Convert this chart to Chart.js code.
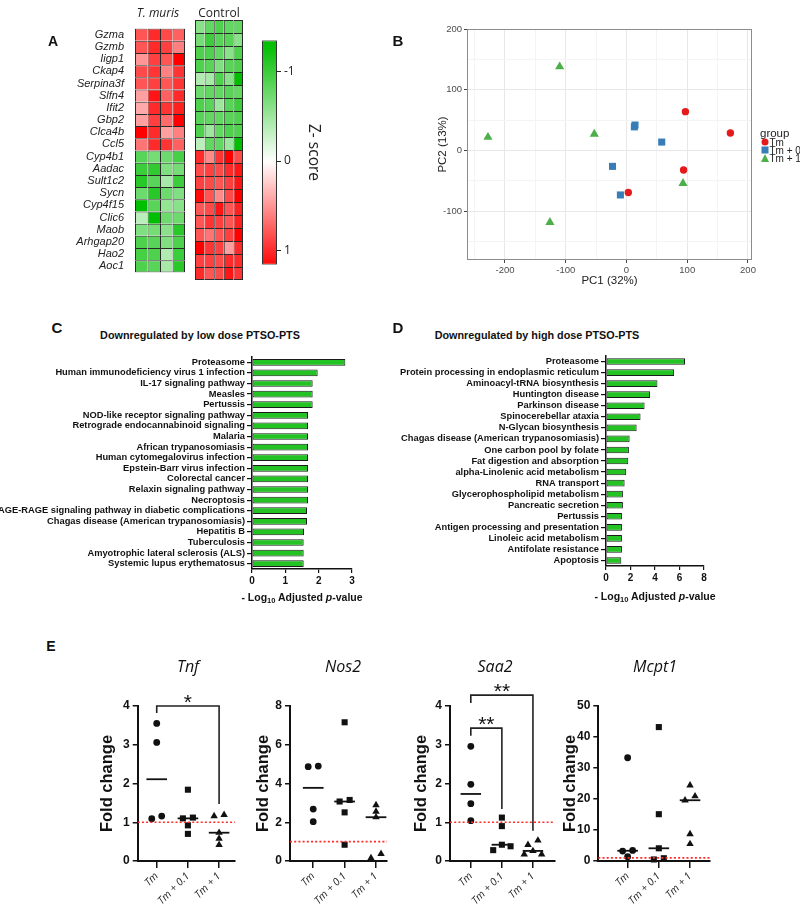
<!DOCTYPE html>
<html>
<head>
<meta charset="utf-8">
<script src="https://cdn.jsdelivr.net/npm/chart.js@4.4.1/dist/chart.umd.min.js"></script>
<style>
  html, body { margin: 0; padding: 0; background: #fff; }
  body { position: relative; width: 800px; height: 911px; overflow: hidden; font-family: "Liberation Sans", Arial, sans-serif; color: #111; }
  canvas { position: absolute; }
  .t { position: absolute; white-space: nowrap; line-height: 1; }
  .t sub { font-size: 0.72em; vertical-align: -0.25em; line-height: 0; }
</style>
</head>
<body>
<script>
// ---- data: heatmap (A) ----
const genes = ["Gzma", "Gzmb", "Iigp1", "Ckap4", "Serpina3f", "Slfn4", "Ifit2", "Gbp2", "Clca4b", "Ccl5",
  "Cyp4b1", "Aadac", "Sult1c2", "Sycn", "Cyp4f15", "Clic6", "Maob", "Arhgap20", "Hao2", "Aoc1"];
const tmZ = [
  [0.8, 1.0, 0.85, 0.75], [0.8, 1.0, 0.9, 0.6], [0.5, 0.9, 0.8, 1.2], [0.85, 0.95, 0.6, 0.95],
  [0.8, 0.9, 0.8, 0.95], [0.45, 1.1, 0.75, 1.0], [0.4, 1.0, 0.95, 1.05], [0.45, 0.9, 0.7, 1.3],
  [1.25, 1.0, 0.45, 0.6], [0.65, 1.0, 0.95, 0.75],
  [-0.85, -0.7, -0.75, -0.95], [-1.0, -1.05, -0.65, -0.7], [-1.1, -0.85, -0.45, -1.0], [-0.75, -1.1, -0.75, -0.65],
  [-1.35, -0.85, -0.55, -0.6], [-0.35, -1.35, -0.75, -0.75], [-0.65, -0.7, -0.6, -1.1], [-0.9, -0.85, -0.65, -0.9],
  [-0.95, -0.9, -0.4, -1.0], [-0.9, -0.85, -0.45, -1.1],
];
const ctrlZ = [
  [-0.6, -0.8, -0.9, -0.8, -0.8], [-0.7, -1.0, -0.85, -0.85, -0.6], [-0.9, -0.9, -0.8, -0.6, -0.9], [-0.9, -0.85, -0.65, -0.85, -0.9],
  [-0.4, -0.45, -0.9, -0.6, -1.3], [-0.75, -0.8, -0.8, -0.85, -0.8], [-0.9, -0.85, -0.5, -0.85, -1.0], [-0.85, -0.8, -0.8, -0.85, -0.9],
  [-0.9, -0.5, -0.8, -0.9, -0.9], [-0.35, -0.8, -0.8, -0.5, -1.3],
  [1.0, 0.55, 0.95, 1.2, 0.85], [0.85, 0.9, 0.85, 1.0, 1.1], [0.9, 0.85, 0.8, 0.9, 1.1], [1.15, 0.8, 0.55, 0.85, 1.2],
  [0.8, 0.85, 1.1, 0.8, 1.05], [0.8, 0.95, 0.9, 0.8, 1.05], [0.8, 0.65, 0.8, 0.9, 1.3], [1.25, 0.95, 0.9, 0.45, 1.0],
  [0.9, 0.9, 0.85, 1.0, 1.0], [1.0, 0.8, 0.85, 1.1, 0.95],
];
const zRange = [-1.35, 1.16];
const zTicks = [-1, 0, 1];

// ---- data: PCA (B) ----
const pcaTm = [[97, 64], [171, 29], [94, -32], [3, -69]];
const pcaTm01 = [[13, 39], [14, 42], [58, 14], [-23, -26], [-10, -73]];
const pcaTm1 = [[-110, 138], [-228, 22], [-53, 27], [-126, -118], [93, -54]];

// ---- data: pathways (C, D) ----
const lowTerms = ["Proteasome", "Human immunodeficiency virus 1 infection", "IL-17 signaling pathway", "Measles", "Pertussis",
  "NOD-like receptor signaling pathway", "Retrograde endocannabinoid signaling", "Malaria", "African trypanosomiasis",
  "Human cytomegalovirus infection", "Epstein-Barr virus infection", "Colorectal cancer", "Relaxin signaling pathway",
  "Necroptosis", "AGE-RAGE signaling pathway in diabetic complications", "Chagas disease (American trypanosomiasis)",
  "Hepatitis B", "Tuberculosis", "Amyotrophic lateral sclerosis (ALS)", "Systemic lupus erythematosus"];
const lowVals = [2.8, 1.97, 1.82, 1.82, 1.82, 1.68, 1.68, 1.68, 1.68, 1.68, 1.68, 1.68, 1.68, 1.68, 1.65, 1.65, 1.56, 1.55, 1.55, 1.55];
const highTerms = ["Proteasome", "Protein processing in endoplasmic reticulum", "Aminoacyl-tRNA biosynthesis", "Huntington disease",
  "Parkinson disease", "Spinocerebellar ataxia", "N-Glycan biosynthesis", "Chagas disease (American trypanosomiasis)",
  "One carbon pool by folate", "Fat digestion and absorption", "alpha-Linolenic acid metabolism", "RNA transport",
  "Glycerophospholipid metabolism", "Pancreatic secretion", "Pertussis", "Antigen processing and presentation",
  "Linoleic acid metabolism", "Antifolate resistance", "Apoptosis"];
const highVals = [6.45, 5.56, 4.2, 3.6, 3.15, 2.82, 2.5, 1.93, 1.87, 1.82, 1.65, 1.52, 1.38, 1.38, 1.3, 1.3, 1.3, 1.3, 1.25];

// ---- data: qPCR fold change (E) ----
const groups = ["Tm", "Tm + 0.1", "Tm + 1"];
const tnf = [[3.55, 3.06, 1.16, 1.09], [1.84, 1.12, 1.1, 0.92, 0.7], [1.19, 1.16, 0.73, 0.58, 0.42]];
const nos2 = [[4.9, 4.87, 2.68, 2.03], [7.16, 3.15, 3.07, 2.51, 0.84], [2.89, 2.55, 2.26, 0.37, 0.15]];
const saa2 = [[2.96, 1.98, 1.48, 1.04], [1.12, 0.9, 0.42, 0.38, 0.28], [0.53, 0.42, 0.26, 0.17, 0.17]];
const mcpt1 = [[33.3, 3.4, 3.2, 1.4], [43.2, 15.1, 4.1, 0.9, 0.5], [24.4, 20.9, 19.6, 8.7, 5.5]];
const tnfSig = [{ from: 0, to: 2, top: 4.0, left: 3.82, right: 1.47, label: "*" }];
const saa2Sig = [
  { from: 0, to: 2, top: 4.28, left: 4.08, right: 0.78, label: "**" },
  { from: 0, to: 1, top: 3.43, left: 3.23, right: 1.34, label: "**" },
];

Chart.defaults.font.family = '"Liberation Sans", Arial, sans-serif';
Chart.defaults.color = "#111";
Chart.defaults.animation = false;
Chart.defaults.responsive = false;
Chart.defaults.maintainAspectRatio = false;
Chart.defaults.devicePixelRatio = 1;
Chart.defaults.plugins.legend.display = false;
Chart.defaults.plugins.tooltip.enabled = false;

function canvasAt(x, y, w, h) {
  const c = document.createElement("canvas");
  c.width = w;
  c.height = h;
  c.style.left = x + "px";
  c.style.top = y + "px";
  c.style.width = w + "px";
  c.style.height = h + "px";
  document.body.appendChild(c);
  return c.getContext("2d");
}

function txt(html, x, y, css, anchor) {
  const d = document.createElement("div");
  d.className = "t";
  d.innerHTML = html;
  d.style.cssText = css;
  d.style.left = x + "px";
  d.style.top = y + "px";
  d.style.transform = anchor === "left" ? "translate(0,-50%)" : "translate(-50%,-50%)";
  document.body.appendChild(d);
  return d;
}

// z-score colour: white at 0, red for positive, green for negative
function zColor(z) {
  if (z >= 0) {
    const t = Math.min(z / 1.2, 1);
    const c = Math.round(255 * (1 - t));
    return `rgb(255,${c},${c})`;
  }
  const t = Math.min(-z / 1.3, 1);
  const rb = Math.round(255 * (1 - t));
  return `rgb(${rb},${Math.round(255 - 65 * t)},${rb})`;
}

// ---------- A: heatmap ----------
function heatmap(x, y, w, h, rows, pad, labelW) {
  const nCol = rows[0].length;
  const datasets = [];
  for (let c = 0; c < nCol; c++) {
    datasets.push({
      data: rows.map(() => 1),
      backgroundColor: rows.map((r) => zColor(r[c])),
      borderColor: "#2a2a2a",
      borderSkipped: false,
      inflateAmount: 0,
      borderWidth: (ctx) => ({ top: 1, left: 1, right: c === nCol - 1 ? 1 : 0, bottom: ctx.dataIndex === rows.length - 1 ? 1 : 0 }),
      barPercentage: 1,
      categoryPercentage: 1,
    });
  }
  new Chart(canvasAt(x, y, w, h), {
    type: "bar",
    data: { labels: genes, datasets },
    options: {
      indexAxis: "y",
      layout: { padding: pad },
      scales: {
        x: { display: false, stacked: true, min: 0, max: nCol },
        y: {
          display: labelW > 0,
          stacked: true,
          afterFit: (s) => { s.width = labelW; },
          grid: { display: false },
          border: { display: false },
          ticks: { autoSkip: false, padding: 3, color: "#222", font: { style: "italic", size: 11 } },
        },
      },
    },
  });
}
heatmap(0, 19, 187, 263, tmZ, { top: 1, bottom: 2, right: 2 }, 135);
heatmap(194, 19, 51, 263, ctrlZ, { top: 1, bottom: 2, left: 1, right: 2 }, 0);

function zGradient(chart) {
  const a = chart.chartArea;
  if (!a) return "#fff";
  const ys = chart.scales.y;
  const g = chart.ctx.createLinearGradient(0, a.top, 0, a.bottom);
  for (let i = 0; i <= 24; i++) {
    const z = zRange[0] + ((zRange[1] - zRange[0]) * i) / 24;
    const p = (ys.getPixelForValue(z) - a.top) / (a.bottom - a.top);
    g.addColorStop(Math.min(Math.max(p, 0), 1), zColor(z));
  }
  return g;
}
new Chart(canvasAt(260, 30, 72, 245), {
  type: "bar",
  data: {
    labels: [""],
    datasets: [{
      data: [zRange],
      backgroundColor: (ctx) => zGradient(ctx.chart),
      borderColor: "#333",
      borderWidth: 1,
      borderSkipped: false,
      inflateAmount: 0,
      barPercentage: 1,
      categoryPercentage: 1,
    }],
  },
  options: {
    layout: { padding: { left: 2, top: 5, bottom: 6 } },
    scales: {
      x: { display: false },
      y: {
        position: "right",
        reverse: true,
        min: zRange[0],
        max: zRange[1],
        afterBuildTicks: (s) => { s.ticks = zTicks.map((v) => ({ value: v })); },
        afterFit: (s) => { s.width = 55; },
        ticks: { color: "#222", padding: 3, font: { family: '"Open Sans"', size: 12 } },
        grid: { drawOnChartArea: false, tickLength: 4, color: "#222" },
        border: { display: false },
        title: { display: true, text: "Z- score", color: "#222", font: { family: '"Open Sans"', size: 15.5 }, padding: { top: 9.7, bottom: 0 } },
      },
    },
  },
});
txt("A", 53, 41, 'font:bold 14px "Liberation Sans",Arial;');
txt("T. muris", 158, 12, 'font:italic 12px "Open Sans";color:#222;');
txt("Control", 219, 12, 'font:12px "Open Sans";color:#222;');

// ---------- B: PCA ----------
const framePlugin = {
  id: "frame",
  afterDraw(chart, args, opts) {
    const { ctx, chartArea: a } = chart;
    ctx.save();
    ctx.strokeStyle = opts.color || "#888";
    ctx.lineWidth = 1;
    ctx.strokeRect(a.left + 0.5, a.top + 0.5, a.width - 1, a.height - 1);
    ctx.restore();
  },
};
const pcaTick = { color: "#4d4d4d", padding: 2, font: { size: 9.5 }, autoSkip: false, maxRotation: 0, callback: (v) => (v % 100 === 0 ? v : "") };
const pcaGrid = {
  color: (c) => (c.tick && c.tick.value % 100 === 0 ? "#e8e8e8" : "#f4f4f4"),
  tickColor: (c) => (c.tick && c.tick.value % 100 === 0 ? "#444" : "rgba(0,0,0,0)"),
  tickLength: 3,
};
new Chart(canvasAt(380, 20, 420, 290), {
  type: "scatter",
  data: {
    datasets: [
      { data: pcaTm.map((p) => ({ x: p[0], y: p[1] })), pointStyle: "circle", pointRadius: 3.7, pointBackgroundColor: "#e41a1c", pointBorderWidth: 0 },
      { data: pcaTm01.map((p) => ({ x: p[0], y: p[1] })), pointStyle: "rect", pointRadius: 5, pointBackgroundColor: "#377eb8", pointBorderWidth: 0 },
      { data: pcaTm1.map((p) => ({ x: p[0], y: p[1] })), pointStyle: "triangle", pointRadius: 5.3, pointBackgroundColor: "#4daf4a", pointBorderWidth: 0 },
    ],
  },
  options: {
    layout: { padding: { top: 9, right: 48 } },
    scales: {
      x: {
        min: -262.5, max: 206.6,
        afterBuildTicks: (s) => { const t = []; for (let v = -250; v <= 200; v += 50) t.push({ value: v }); s.ticks = t; },
        afterFit: (s) => { s.height = 50; },
        ticks: pcaTick, grid: pcaGrid, border: { display: false },
        title: { display: true, text: "PC1 (32%)", color: "#222", font: { size: 11.5 }, padding: { top: 0, bottom: 22 } },
      },
      y: {
        min: -180, max: 200,
        afterBuildTicks: (s) => { const t = []; for (let v = -150; v <= 200; v += 50) t.push({ value: v }); s.ticks = t; },
        afterFit: (s) => { s.width = 87; },
        ticks: pcaTick, grid: pcaGrid, border: { display: false },
        title: { display: true, text: "PC2 (13%)", color: "#222", font: { size: 11.5 }, padding: { top: 56, bottom: 0 } },
      },
    },
    plugins: { frame: { color: "#8c8c8c" } },
  },
  plugins: [framePlugin],
});
txt("B", 398, 40, 'font:bold 15px "Liberation Sans",Arial;');
txt("group", 760, 133, 'font:11.5px "Liberation Sans",Arial;color:#222;', "left");
const legendRows = [
  ["Tm", "width:7px;height:7px;border-radius:50%;background:#e41a1c;"],
  ["Tm + 0.1", "width:7px;height:7px;background:#377eb8;"],
  ["Tm + 1", "width:0;height:0;border-left:4.5px solid transparent;border-right:4.5px solid transparent;border-bottom:8px solid #4daf4a;"],
];
legendRows.forEach((r, i) => {
  const yy = 141.5 + i * 8.2;
  txt("", 764.5, yy, "position:absolute;" + r[1]);
  txt(r[0], 769.5, yy, 'font:10px "Liberation Sans",Arial;color:#222;', "left");
});

// ---------- C, D: pathway bars ----------
function pathwayBars(x, y, w, h, yW, padTop, xH, labels, vals, xMax, step, barPct) {
  new Chart(canvasAt(x, y, w, h), {
    type: "bar",
    data: {
      labels,
      datasets: [{
        data: vals, backgroundColor: "#22c322", borderColor: "#1b1b1b", borderWidth: 1,
        borderSkipped: false, barPercentage: barPct, categoryPercentage: 1,
      }],
    },
    options: {
      indexAxis: "y",
      layout: { padding: { top: padTop, right: 8 } },
      scales: {
        x: {
          min: 0, max: xMax,
          afterFit: (s) => { s.height = xH; },
          ticks: { stepSize: step, color: "#111", padding: 2, font: { weight: "bold", size: 10 } },
          grid: { drawOnChartArea: false, tickLength: 4, color: "#111", lineWidth: 1.2 },
          border: { color: "#111", width: 1.5 },
        },
        y: {
          afterFit: (s) => { s.width = yW; },
          ticks: { autoSkip: false, color: "#111", padding: 2, font: { weight: "bold", size: 9.3 } },
          grid: { drawOnChartArea: false, offset: false, tickLength: 5, color: "#111", lineWidth: 1.2 },
          border: { color: "#111", width: 1.5 },
        },
      },
    },
  });
}
pathwayBars(0, 345, 360, 255, 252, 12, 31, lowTerms, lowVals, 3, 1, 0.63);
pathwayBars(400, 345, 312, 252, 206, 11, 31, highTerms, highVals, 8, 2, 0.6);
txt("C", 57, 327, 'font:bold 15px "Liberation Sans",Arial;');
txt("D", 398, 327, 'font:bold 15px "Liberation Sans",Arial;');
txt("Downregulated by low dose PTSO-PTS", 200, 335, 'font:bold 10.8px "Liberation Sans",Arial;');
txt("Downregulated by high dose PTSO-PTS", 537, 335, 'font:bold 10.8px "Liberation Sans",Arial;');
txt("- Log<sub>10</sub> Adjusted <i>p</i>-value", 302, 597, 'font:bold 10.5px "Liberation Sans",Arial;');
txt("- Log<sub>10</sub> Adjusted <i>p</i>-value", 655, 596, 'font:bold 10.5px "Liberation Sans",Arial;');

// ---------- E: dot plots ----------
const starPlugin = {
  id: "stars",
  afterDatasetsDraw(chart, args, opts) {
    const { ctx } = chart;
    const xs = chart.scales.x, ys = chart.scales.y;
    ctx.save();
    ctx.fillStyle = "#111";
    ctx.font = '21px "Liberation Sans", Arial';
    ctx.textAlign = "center";
    ctx.textBaseline = "alphabetic";
    (opts.items || []).forEach((b) => {
      const mx = (xs.getPixelForValue(b.from) + xs.getPixelForValue(b.to)) / 2;
      ctx.fillText(b.label, mx, ys.getPixelForValue(b.top) + 3);
    });
    ctx.restore();
  },
};

function median(v) {
  const s = v.slice().sort((a, b) => a - b);
  const m = Math.floor(s.length / 2);
  return s.length % 2 ? s[m] : (s[m - 1] + s[m]) / 2;
}

function dotPlot(cfg) {
  const { left, width, yW, yMax, step, xMin, xMax, titlePad, data, sig } = cfg;
  const thr = yMax * 0.03;
  // spread points with nearly equal values side by side
  const pts = data.map((vals, g) => {
    const s = vals.slice().sort((a, b) => a - b);
    const out = [];
    let i = 0;
    while (i < s.length) {
      let j = i + 1;
      while (j < s.length && s[j] - s[j - 1] < thr) j++;
      const n = j - i;
      const offs = n === 1 ? [0] : n === 2 ? [-0.16, 0.16] : [-0.28, 0.28, 0];
      for (let k = i; k < j; k++) out.push({ x: g + offs[k - i], y: s[k] });
      i = j;
    }
    return out;
  });
  const datasets = [];
  datasets.push({ data: [{ x: xMin, y: 1 }, { x: xMax, y: 1 }], showLine: true, borderColor: "#ff2a2a", borderWidth: 1.6, borderDash: [2, 2.2], pointRadius: 0 });
  data.forEach((vals, g) => {
    const m = median(vals);
    datasets.push({ data: [{ x: g - 0.33, y: m }, { x: g + 0.33, y: m }], showLine: true, borderColor: "#111", borderWidth: 1.8, pointRadius: 0 });
  });
  sig.forEach((b) => {
    datasets.push({
      data: [{ x: b.from, y: b.left }, { x: b.from, y: b.top }, { x: b.to, y: b.top }, { x: b.to, y: b.right }],
      showLine: true, borderColor: "#222", borderWidth: 1.6, pointRadius: 0,
    });
  });
  const styles = ["circle", "rect", "triangle"];
  const radii = [3.4, 4.3, 4.3];
  pts.forEach((p, g) => {
    datasets.push({ data: p, pointStyle: styles[g], pointRadius: radii[g], pointBackgroundColor: "#111", pointBorderWidth: 0 });
  });
  datasets.forEach((d) => { d.clip = false; });

  new Chart(canvasAt(left, 675, width, 236), {
    type: "scatter",
    data: { datasets },
    options: {
      layout: { padding: { top: 31, right: 5 } },
      scales: {
        x: {
          min: xMin, max: xMax,
          afterBuildTicks: (s) => { s.ticks = groups.map((g, i) => ({ value: i })); },
          afterFit: (s) => { s.height = 50; },
          ticks: { autoSkip: false, minRotation: 45, maxRotation: 45, padding: 2, color: "#222", callback: (v) => groups[v], font: { family: '"Open Sans"', style: "italic", size: 10.5 } },
          grid: { drawOnChartArea: false, tickLength: 7, color: "#111", lineWidth: 1.5 },
          border: { color: "#111", width: 2 },
        },
        y: {
          min: 0, max: yMax,
          afterFit: (s) => { s.width = yW; },
          ticks: { stepSize: step, color: "#111", padding: 3, font: { weight: "bold", size: 12 } },
          grid: { drawOnChartArea: false, tickLength: 5, color: "#111", lineWidth: 1.5 },
          border: { color: "#111", width: 2 },
          title: { display: true, text: "Fold change", color: "#111", font: { weight: "bold", size: 16.5 }, padding: { top: titlePad, bottom: 0 } },
        },
      },
      plugins: { stars: { items: sig } },
    },
    plugins: [starPlugin],
  });
}
dotPlot({ left: 95, width: 145, yW: 42.7, yMax: 4, step: 1, xMin: -0.61, xMax: 2.51, titlePad: 2.1, data: tnf, sig: tnfSig });
dotPlot({ left: 250, width: 142, yW: 40, yMax: 8, step: 2, xMin: -0.74, xMax: 2.35, titlePad: 3.1, data: nos2, sig: [] });
dotPlot({ left: 410, width: 150, yW: 40, yMax: 4, step: 1, xMin: -0.67, xMax: 2.71, titlePad: 1.8, data: saa2, sig: saa2Sig });
dotPlot({ left: 558, width: 157, yW: 40.3, yMax: 50, step: 10, xMin: -0.94, xMax: 2.64, titlePad: 2.1, data: mcpt1, sig: [] });
txt("E", 51, 646, 'font:bold 14px "Liberation Sans",Arial;');
txt("Tnf", 188, 666, 'font:italic 16px "Open Sans";color:#111;');
txt("Nos2", 343, 666, 'font:italic 16px "Open Sans";color:#111;');
txt("Saa2", 495, 666, 'font:italic 16px "Open Sans";color:#111;');
txt("Mcpt1", 655, 666, 'font:italic 16px "Open Sans";color:#111;');
</script>
</body>
</html>
